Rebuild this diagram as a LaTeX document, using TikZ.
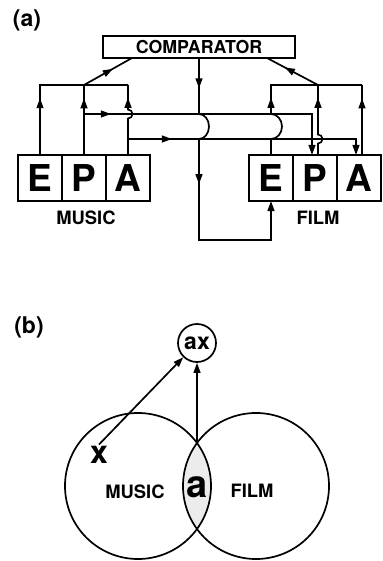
\documentclass[tikz,border=0pt]{standalone}
\usepackage{fontspec}
\setmainfont{TeX Gyre Heros}
\usetikzlibrary{positioning,calc,arrows.meta,decorations.markings}

\tikzset{
  box/.style={draw, inner sep=0pt, outer sep=0pt},
  cell/.style={box, minimum width=22pt, minimum height=23pt, font=\fontsize{18.5}{18.5}\selectfont\bfseries},
  tag/.style={font=\fontsize{9.2}{9.2}\selectfont\bfseries},
  part/.style={font=\fontsize{11.5}{11.5}\selectfont\bfseries},
  letter/.style={font=\fontsize{#1}{#1}\selectfont\bfseries},
  midarrow/.style={postaction={decorate,decoration={markings,mark=at position #1 with {\arrow{>}}}}},
}

\begin{document}
\begin{tikzpicture}[x=0.5pt, y=-0.5pt, line width=0.85pt, >={Triangle[length=5pt,width=3.4pt]}]
\useasboundingbox (0,0) rectangle (382,561);

% (a) comparator scheme
\node[part] (lbla) at (27,20) {(a)};
\node[box, minimum width=96pt, minimum height=11pt, font=\fontsize{8.9}{8.9}\selectfont\bfseries] (comp) at (199,47) {COMPARATOR};

\node[cell] (mE) at (40,178) {E};
\node[cell, right=0pt of mE] (mP) {P};
\node[cell, right=0pt of mP] (mA) {A};
\node[cell] (fE) at (271,178) {E};
\node[cell, right=0pt of fE] (fP) {P};
\node[cell, right=0pt of fP] (fA) {A};
\node[tag] (mlbl) at (86,218) {MUSIC};
\node[tag] (flbl) at (318,218) {FILM};

% music side
\draw[midarrow=.36] (mE.north) |- (mA.north |- 0,85);
\draw[midarrow=.81] (mP.north) -- (mP.north |- 0,85);
\draw[midarrow=.83] (mA.north) -- ++(0,-36.5) arc[start angle=90, end angle=-90, radius=4.5] -- (mA.north |- 0,85);
\draw[midarrow=.6] (mP.north |- 0,85) -- ($(comp.south)+(-67,0)$);

% music to film
\draw[->, midarrow=.1] (mP.north |- 0,114) -| ($(fP.north)+(-3,0)$);
\draw[->, midarrow=.18] (mA.north |- 0,139) -| ($(fA.north)+(-3,0)$);

% comparator back to film
\draw[->, midarrow=.1, midarrow=.45] (comp.south) -- (comp.south |- 0,114)
  arc[start angle=-90, end angle=90, x radius=10, y radius=12.5]
  -- (comp.south |- 0,240) -| (fE.south);

% film side
\draw[midarrow=.4] (fE.north) -- (fE.north |- 0,139)
  arc[start angle=90, end angle=-90, x radius=11, y radius=12.5]
  -- (fE.north |- 0,85) -- ($(fA.north |- 0,85)+(3,0)$);
\draw[midarrow=.83] ($(fP.north)+(3,0)$) -- ++(0,-11.5) arc[start angle=90, end angle=-90, radius=4.5] -- ($(fP.north |- 0,85)+(3,0)$);
\draw[midarrow=.81] ($(fA.north)+(3,0)$) -- ($(fA.north |- 0,85)+(3,0)$);
\draw[midarrow=.65] ($(fP.north |- 0,85)+(3,0)$) -- ($(comp.south)+(68,0)$);

% (b) overlap
\node[part] (lblb) at (29,327) {(b)};
\coordinate (cm) at (138,486);
\coordinate (cf) at (256,486);
\begin{scope}
  \clip (cm) circle[radius=73];
  \fill[gray!15] (cf) circle[radius=73];
\end{scope}
\draw (cm) circle[radius=73];
\draw (cf) circle[radius=73];

\node[tag] (music) at (135,492) {MUSIC};
\node[tag] (film) at (252,491) {FILM};
\node[letter=19] (a) at (197,487) {a};
\node[draw, circle, minimum size=19pt, inner sep=0pt, letter=11.5] (ax) at (197,343) {ax};
\node[letter=16, inner sep=0.5pt] (x) at (99,455) {x};
\coordinate (meet) at (197,443);
\draw[->] (x.north) -- (ax);
\draw[->] (meet) -- (ax);
\end{tikzpicture}
\end{document}
